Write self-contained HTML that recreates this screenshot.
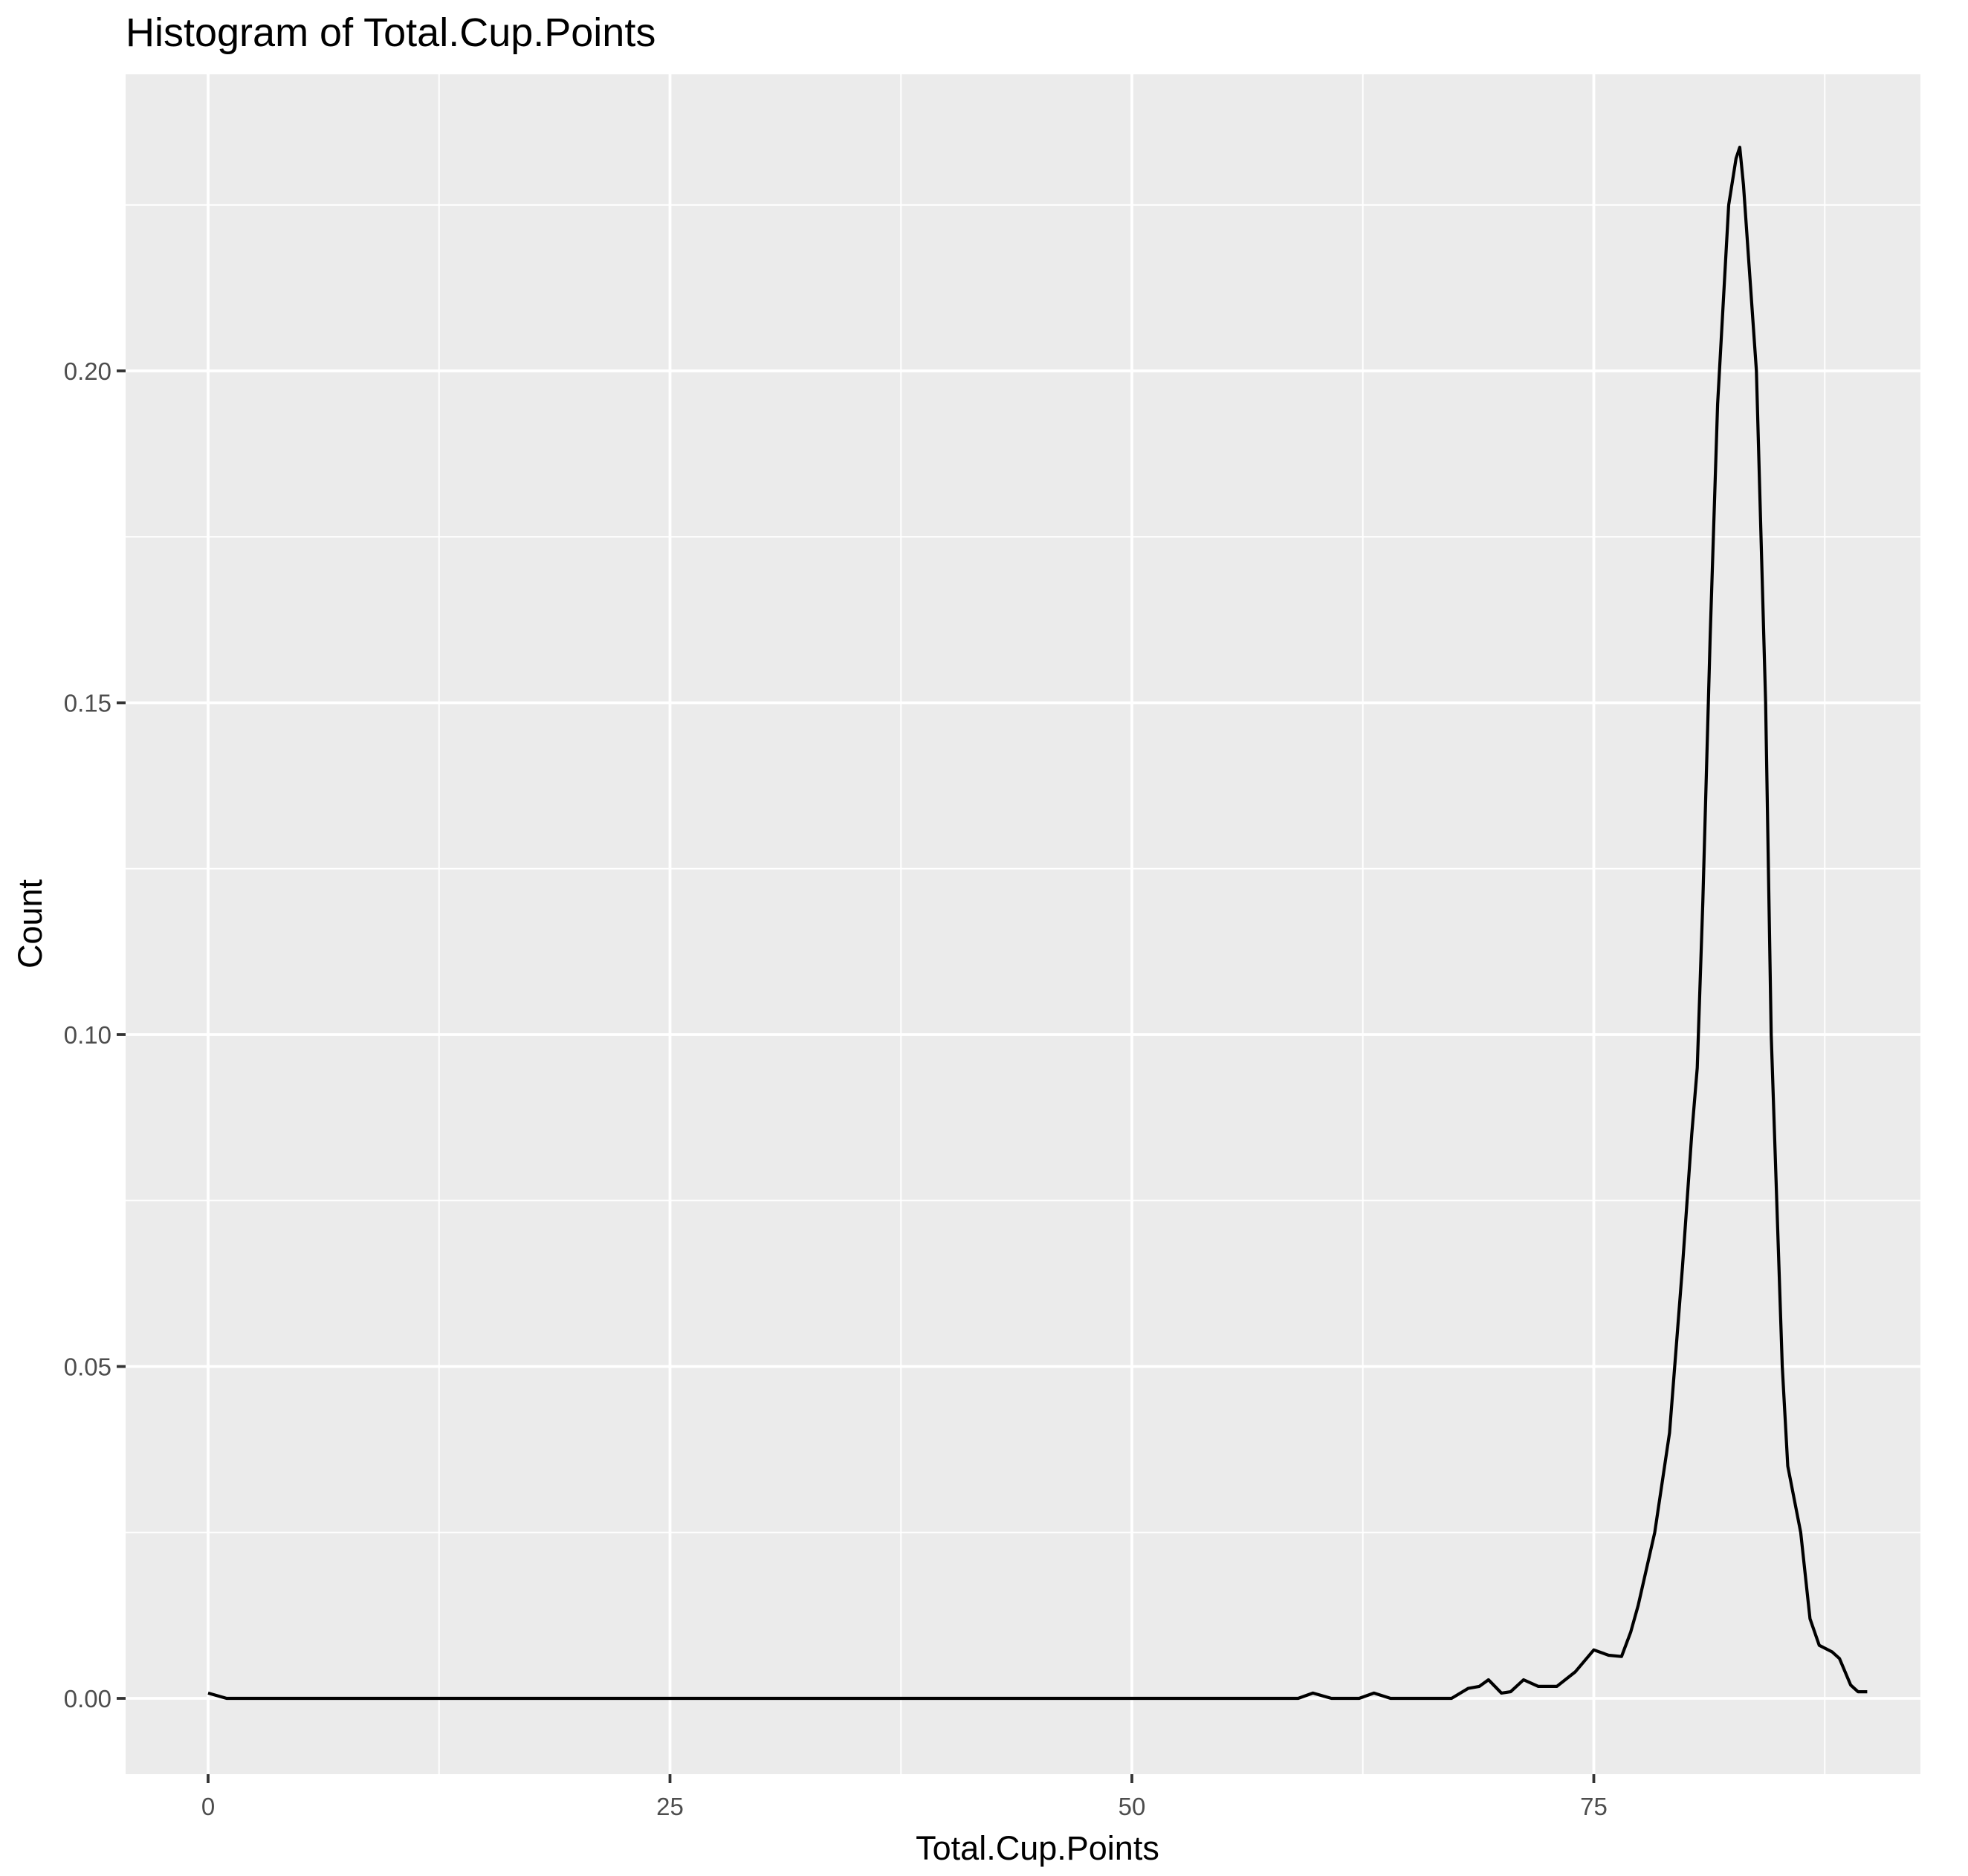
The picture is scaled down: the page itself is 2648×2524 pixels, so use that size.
<!DOCTYPE html>
<html><head><meta charset="utf-8"><style>
html,body{margin:0;padding:0;background:#fff;}
svg{display:block;font-family:"Liberation Sans",sans-serif;}
</style></head><body>
<svg id="chart" width="2648" height="2524" viewBox="0 0 2648 2524" xmlns="http://www.w3.org/2000/svg">
<rect width="2648" height="2524" fill="#fff"/>
<text x="169" y="62" font-size="54" fill="#000">Histogram of Total.Cup.Points</text>
<rect x="169" y="100" width="2415" height="2287" fill="#ebebeb"/>
<g id="grid"></g>
<g id="axes"></g>
<path id="curve" fill="none" stroke="#000" stroke-width="4.2" stroke-linejoin="round"/>
<text x="1396" y="2502" font-size="45" text-anchor="middle" fill="#000">Total.Cup.Points</text>
<text x="0" y="0" font-size="45" text-anchor="middle" fill="#000" transform="translate(56,1243) rotate(-90)">Count</text>
</svg>
<script>
const xTicks = [0, 25, 50, 75];
const yTicks = [0, 0.05, 0.10, 0.15, 0.20];
const yTickLabels = ["0.00", "0.05", "0.10", "0.15", "0.20"];
const curveX = [0, 1, 59, 59.8, 60.8, 62.3, 63.1, 64, 67.3, 68.2, 68.8, 69.3, 70, 70.5, 71.2, 72, 73, 74, 75, 75.8, 76.5, 77, 77.4, 78.3, 79.1, 79.8, 80.3, 80.6, 80.9, 81.3, 81.7, 82.3, 82.7, 82.9, 83.1, 83.8, 84.3, 84.6, 85.2, 85.5, 86.2, 86.7, 87.2, 87.9, 88.3, 88.9, 89.3, 89.8];
const curveY = [0.0008, 0, 0, 0.0008, 0, 0, 0.0008, 0, 0, 0.0015, 0.0018, 0.0028, 0.0008, 0.001, 0.0028, 0.0018, 0.0018, 0.004, 0.0073, 0.0065, 0.0063, 0.01, 0.014, 0.025, 0.04, 0.065, 0.085, 0.095, 0.12, 0.16, 0.195, 0.225, 0.232, 0.2337, 0.228, 0.20, 0.15, 0.10, 0.05, 0.035, 0.025, 0.012, 0.008, 0.007, 0.006, 0.002, 0.001, 0.001];
const NS = "http://www.w3.org/2000/svg";
const L = 169, R = 2584, T = 100, B = 2387;
function sx(v){ return 280 + v * 24.86; }
function sy(v){ return 2285 - v * 8930; }
const grid = document.getElementById('grid');
const axes = document.getElementById('axes');
function line(parent, x1, y1, x2, y2, stroke, w, name){
  const l = document.createElementNS(NS, 'line');
  l.setAttribute('x1', x1); l.setAttribute('y1', y1);
  l.setAttribute('x2', x2); l.setAttribute('y2', y2);
  l.setAttribute('stroke', stroke); l.setAttribute('stroke-width', w);
  
  
  parent.appendChild(l);
}
for (let i = 0; i < xTicks.length; i++) {
  line(grid, sx(xTicks[i] + 12.5), T, sx(xTicks[i] + 12.5), B, '#fff', 1.9, 'x-minor-gridline');
}
for (let i = 0; i < yTicks.length; i++) {
  const v = yTicks[i] + 0.025;
  if (sy(v) > T) line(grid, L, sy(v), R, sy(v), '#fff', 1.9, 'y-minor-gridline');
}
if (sy(-0.025) < B) line(grid, L, sy(-0.025), R, sy(-0.025), '#fff', 1.9, 'y-minor-gridline');
for (let i = 0; i < xTicks.length; i++) {
  const x = sx(xTicks[i]);
  line(grid, x, T, x, B, '#fff', 3.8, 'x-major-gridline');
  line(axes, x, B, x, B + 12, '#333', 3.8, 'x-tick');
  const t = document.createElementNS(NS, 'text');
  t.setAttribute('x', x); t.setAttribute('y', B + 55);
  t.setAttribute('font-size', '33'); t.setAttribute('fill', '#4d4d4d');
  t.setAttribute('text-anchor', 'middle');
  
  
  t.textContent = xTicks[i];
  axes.appendChild(t);
}
for (let i = 0; i < yTicks.length; i++) {
  const y = sy(yTicks[i]);
  line(grid, L, y, R, y, '#fff', 3.8, 'y-major-gridline');
  line(axes, L - 12, y, L, y, '#333', 3.8, 'y-tick');
  const t = document.createElementNS(NS, 'text');
  t.setAttribute('x', L - 19); t.setAttribute('y', y + 12);
  t.setAttribute('font-size', '33'); t.setAttribute('fill', '#4d4d4d');
  t.setAttribute('text-anchor', 'end');
  
  
  t.textContent = yTickLabels[i];
  axes.appendChild(t);
}
let d = '';
for (let i = 0; i < curveX.length; i++) {
  d += (i ? 'L' : 'M') + sx(curveX[i]).toFixed(1) + ',' + sy(curveY[i]).toFixed(1);
}
document.getElementById('curve').setAttribute('d', d);
</script>
</body></html>
